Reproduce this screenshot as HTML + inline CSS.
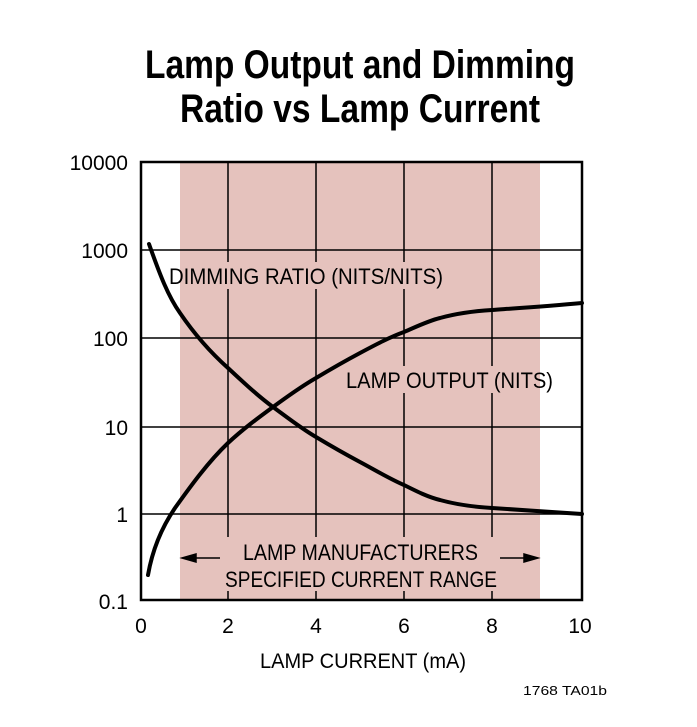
<!DOCTYPE html>
<html><head><meta charset="utf-8"><style>html,body{margin:0;padding:0;background:#fff}svg{display:block}</style></head><body>
<svg width="697" height="727" viewBox="0 0 697 727" xmlns="http://www.w3.org/2000/svg" font-family="Liberation Sans, sans-serif">
<text x="145" y="78" font-size="40" font-weight="bold" textLength="430" lengthAdjust="spacingAndGlyphs">Lamp Output and Dimming</text>
<text x="180" y="122" font-size="40" font-weight="bold" textLength="360" lengthAdjust="spacingAndGlyphs">Ratio vs Lamp Current</text>
<rect x="180" y="162" width="360" height="438" fill="#e5c2bd"/>
<g stroke="#000" stroke-width="1.5">
<line x1="141" y1="250" x2="582" y2="250"/><line x1="141" y1="338" x2="582" y2="338"/>
<line x1="141" y1="427" x2="582" y2="427"/><line x1="141" y1="514" x2="582" y2="514"/>
<line x1="228" y1="162" x2="228" y2="600"/><line x1="316" y1="162" x2="316" y2="600"/>
<line x1="404" y1="162" x2="404" y2="600"/><line x1="492" y1="162" x2="492" y2="600"/>
</g>
<rect x="180" y="262" width="267" height="27" fill="#e5c2bd"/>
<rect x="342" y="366" width="198" height="27" fill="#e5c2bd"/>
<rect x="222" y="537" width="280" height="54" fill="#e5c2bd"/>
<rect x="141" y="162" width="441" height="438" fill="none" stroke="#000" stroke-width="2.5"/>
<g fill="none" stroke="#000" stroke-width="4" stroke-linejoin="round" stroke-linecap="round">
<path d="M149,244 C160,275 168,296 180,313 C195,335 210,352 228,368 C243,382 258,396 273,407 C288,418 302,429 316,437 C331,446 345,454 360,462 C375,470 390,479 404,485 C418,492 428,497 440,500 C458,505 475,507 492,508 C520,510 550,512 582,514"/>
<path d="M148,575 C152,552 160,530 175,508 C190,487 208,462 228,443 C243,429 258,418 273,407 C288,396 302,386 316,378 C331,369 345,361 360,353 C375,345 390,337 404,332 C418,326 428,321 440,318 C458,313 475,311 492,310 C520,308 550,306 582,303"/>
</g>
<g stroke="#000" stroke-width="1.5" fill="#000">
<line x1="186" y1="558" x2="220" y2="558"/><path d="M182,558 L196,554 L196,562Z"/>
<line x1="500" y1="558" x2="534" y2="558"/><path d="M538,558 L524,554 L524,562Z"/>
</g>
<g font-size="22">
<text x="169" y="284" textLength="274" lengthAdjust="spacingAndGlyphs">DIMMING RATIO (NITS/NITS)</text>
<text x="346" y="388" textLength="207" lengthAdjust="spacingAndGlyphs">LAMP OUTPUT (NITS)</text>
<text x="243" y="560" textLength="235" lengthAdjust="spacingAndGlyphs">LAMP MANUFACTURERS</text>
<text x="225" y="587" textLength="272" lengthAdjust="spacingAndGlyphs">SPECIFIED CURRENT RANGE</text>
</g>
<g font-size="21" text-anchor="end">
<text x="128" y="170">10000</text><text x="128" y="258">1000</text><text x="128" y="346">100</text>
<text x="128" y="435">10</text><text x="128" y="522">1</text><text x="128" y="609">0.1</text>
</g>
<g font-size="21" text-anchor="middle">
<text x="141" y="633">0</text><text x="228" y="633">2</text><text x="316" y="633">4</text>
<text x="404" y="633">6</text><text x="492" y="633">8</text><text x="580" y="633">10</text>
</g>
<text x="260" y="668" font-size="21" textLength="206" lengthAdjust="spacingAndGlyphs">LAMP CURRENT (mA)</text>
<text x="523" y="695" font-size="13" textLength="84" lengthAdjust="spacingAndGlyphs">1768 TA01b</text>
</svg>
</body></html>
